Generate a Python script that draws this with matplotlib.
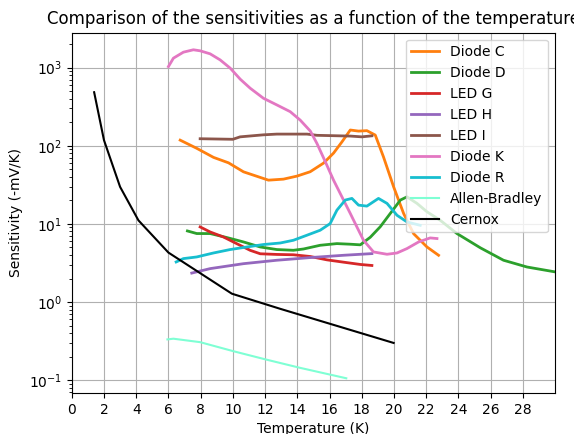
import numpy as np
import matplotlib
matplotlib.use('Agg')
import matplotlib.pyplot as plt

# Diode C
t_c = [6.73, 7.76, 8.8, 9.73, 10.66, 12.21, 13.14, 13.98, 14.8, 15.63, 16.25, 16.77,
       17.29, 17.8, 18.32, 18.84, 19.35, 19.98, 20.6, 21.22, 22.05, 22.77]
s_c = [118, 92.7, 71, 60.5, 46.4, 36.3, 37.4, 40.9, 46.5, 60, 80.5, 112,
       159, 154, 156, 137, 72, 29.8, 13.6, 7.5, 5.07, 3.97]

# Diode D
t_d = [7.18, 7.76, 8.59, 9.63, 10.66, 11.7, 12.73, 13.76, 14.39, 15.42, 16.46, 17.29,
       17.91, 18.53, 19.15, 19.77, 20.4, 20.81, 21.43, 22.05, 22.88, 23.91, 25.36,
       26.8, 28.26, 30.02]
s_d = [8.13, 7.53, 7.53, 6.69, 5.88, 5.07, 4.7, 4.6, 4.78, 5.33, 5.6, 5.5,
       5.4, 6.75, 9.2, 13.6, 20.2, 22.2, 18.3, 14.3, 11.1, 7.53, 4.95,
       3.43, 2.81, 2.43]

# LED G
t_g = [7.97, 8.59, 9.42, 10.25, 11.08, 11.7, 12.73, 13.76, 14.8, 15.84, 16.87, 17.91, 18.63]
s_g = [9.15, 7.89, 6.8, 5.58, 4.59, 4.15, 4.07, 4.03, 3.83, 3.47, 3.24, 3.03, 2.94]

# LED H
t_h = [7.45, 8.59, 10.66, 12.73, 14.8, 16.87, 18.63]
s_h = [2.35, 2.68, 3.1, 3.43, 3.71, 3.97, 4.17]

# LED I
t_i = [7.97, 10.0, 10.45, 11.9, 12.73, 14.6, 15.22, 17.29, 18.01, 18.63]
s_i = [123, 121, 130, 138, 141, 141, 136, 133, 130, 134]

# Diode K
t_k = [6.0, 6.31, 6.93, 7.55, 7.97, 8.59, 9.21, 9.84, 10.46, 11.08, 11.9, 12.73,
       13.56, 14.18, 14.81, 15.22, 15.74, 16.25, 16.77, 17.29, 17.7, 18.11, 18.73,
       19.57, 20.19, 20.81, 21.53, 22.25, 22.67]
s_k = [1030, 1320, 1575, 1690, 1640, 1500, 1255, 982, 710, 544, 405, 333,
       273, 213, 154, 107, 62.4, 36.3, 22.2, 13.6, 9.15, 6.18, 4.38,
       4.09, 4.25, 4.84, 5.88, 6.62, 6.5]

# Diode R
t_r = [6.48, 6.93, 7.76, 8.8, 9.83, 10.87, 11.9, 12.94, 13.76, 14.6, 15.42, 16.04,
       16.46, 16.98, 17.39, 17.8, 18.32, 19.04, 19.57, 20.19, 20.81, 21.63]
s_r = [3.26, 3.6, 3.78, 4.25, 4.7, 5.07, 5.45, 5.7, 6.18, 7.17, 8.3, 10.1,
       15, 20.2, 21.2, 17.4, 16.9, 21.2, 18.3, 12.9, 10.6, 9.6]

# Allen-Bradley
t_ab = [5.94, 6.31, 7.97, 10.04, 12.11, 14.18, 17.04]
s_ab = [0.333, 0.34, 0.307, 0.235, 0.183, 0.144, 0.106]

# Cernox
t_cx = [1.39, 2.0, 3.0, 4.14, 6.0, 9.94, 12.94, 19.98]
s_cx = [484, 118, 29.8, 11.1, 4.3, 1.28, 0.82, 0.30]

fig = plt.figure(figsize=(5.74, 4.34), dpi=100)
ax = fig.add_axes([0.125, 0.0945, 0.842, 0.83])

ax.plot(t_c, s_c, color='tab:orange', linewidth=2, label='Diode C')
ax.plot(t_d, s_d, color='tab:green', linewidth=2, label='Diode D')
ax.plot(t_g, s_g, color='tab:red', linewidth=2, label='LED G')
ax.plot(t_h, s_h, color='tab:purple', linewidth=2, label='LED H')
ax.plot(t_i, s_i, color='tab:brown', linewidth=2, label='LED I')
ax.plot(t_k, s_k, color='tab:pink', linewidth=2, label='Diode K')
ax.plot(t_r, s_r, color='tab:cyan', linewidth=2, label='Diode R')
ax.plot(t_ab, s_ab, color='aquamarine', linewidth=1.5, label='Allen-Bradley')
ax.plot(t_cx, s_cx, color='black', linewidth=1.5, label='Cernox')

ax.set_yscale('log')
ax.set_xlim(0, 30)
ax.set_ylim(0.0687, 2790)
ax.set_xticks(np.arange(0, 30, 2))
ax.grid(True)
ax.set_title('Comparison of the sensitivities as a function of the temperature')
ax.set_xlabel('Temperature (K)')
ax.set_ylabel('Sensitivity (-mV/K)')
ax.legend(loc='upper right')

fig.savefig('out.png', dpi=100)
